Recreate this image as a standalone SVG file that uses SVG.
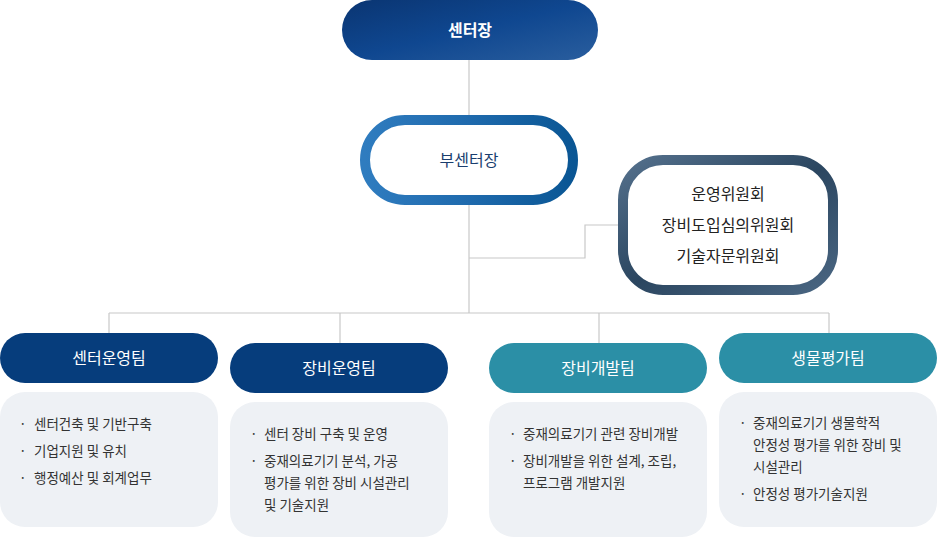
<svg xmlns="http://www.w3.org/2000/svg" width="938" height="538" viewBox="0 0 938 538">
<style>
text{font-family:"Noto Sans CJK KR","Noto Sans",sans-serif}
.t{font-size:16px;fill:#fff;text-anchor:middle}
.b{font-size:13.5px;fill:#333}
.c{font-size:16px;fill:#222;text-anchor:middle}
.box{fill:#eef1f5}
.ln{stroke:#c8c8c8;stroke-width:1.2;fill:none}
</style>
<defs>
<linearGradient id="g1" x1="0" y1="0" x2="1" y2="1"><stop offset="0" stop-color="#0a3572"/><stop offset="0.5" stop-color="#0f4790"/><stop offset="1" stop-color="#2a5e9e"/></linearGradient>
<linearGradient id="g2" x1="0" y1="0" x2="1" y2="0"><stop offset="0" stop-color="#2f7cbf"/><stop offset="0.5" stop-color="#1f6aad"/><stop offset="1" stop-color="#0a5694"/></linearGradient>
<linearGradient id="g3" x1="0" y1="0" x2="1" y2="1"><stop offset="0" stop-color="#54708c"/><stop offset="0.5" stop-color="#2b4660"/><stop offset="1" stop-color="#4a6682"/></linearGradient>
</defs>
<g id="connectors">
<path class="ln" d="M469 60V115M469 205V313M469 258H585V225H618M109 313H829M109 313V333M340 313V343M599 313V343M829 313V333"/>
</g>
<g id="n-head"><rect x="342" y="0" width="256" height="60" rx="30" fill="url(#g1)"/><text class="t" x="470" y="36" font-weight="bold" font-size="17">센터장</text></g>
<g id="n-deputy"><rect x="365" y="120" width="208" height="80" rx="40" fill="#fff" stroke="url(#g2)" stroke-width="10"/><text class="c" x="469" y="166" fill="#1a3e6e" style="fill:#1a3e6e">부센터장</text></g>
<g id="n-committee"><rect x="623" y="160" width="210" height="130" rx="40" fill="#fff" stroke="url(#g3)" stroke-width="10"/>
<text class="c" x="728" y="200">운영위원회</text><text class="c" x="728" y="231">장비도입심의위원회</text><text class="c" x="728" y="262">기술자문위원회</text></g>
<g id="n-team1"><rect x="0" y="333" width="218" height="50" rx="25" fill="#063d7c"/><text class="t" x="109" y="364">센터운영팀</text>
<rect class="box" x="0" y="392" width="218" height="135" rx="25"/>
<text class="b"><tspan x="19" y="429">·</tspan><tspan x="34" y="429">센터건축 및 기반구축</tspan><tspan x="19" y="456">·</tspan><tspan x="34" y="456">기업지원 및 유치</tspan><tspan x="19" y="483">·</tspan><tspan x="34" y="483">행정예산 및 회계업무</tspan></text></g>
<g id="n-team2"><rect x="230" y="343" width="218" height="50" rx="25" fill="#063d7c"/><text class="t" x="339" y="374">장비운영팀</text>
<rect class="box" x="230" y="402" width="218" height="135" rx="25"/>
<text class="b"><tspan x="250" y="439">·</tspan><tspan x="264" y="439">센터 장비 구축 및 운영</tspan><tspan x="250" y="466">·</tspan><tspan x="264" y="466">중재의료기기 분석, 가공</tspan><tspan x="264" y="488">평가를 위한 장비 시설관리</tspan><tspan x="264" y="510">및 기술지원</tspan></text></g>
<g id="n-team3"><rect x="489" y="343" width="218" height="50" rx="25" fill="#2b8fa6"/><text class="t" x="598" y="374">장비개발팀</text>
<rect class="box" x="489" y="402" width="218" height="135" rx="25"/>
<text class="b"><tspan x="509" y="439">·</tspan><tspan x="523" y="439">중재의료기기 관련 장비개발</tspan><tspan x="509" y="466">·</tspan><tspan x="523" y="466">장비개발을 위한 설계, 조립,</tspan><tspan x="523" y="488">프로그램 개발지원</tspan></text></g>
<g id="n-team4"><rect x="719" y="333" width="218" height="50" rx="25" fill="#2b8fa6"/><text class="t" x="828" y="364">생물평가팀</text>
<rect class="box" x="719" y="392" width="218" height="135" rx="25"/>
<text class="b"><tspan x="739" y="428">·</tspan><tspan x="753" y="428">중재의료기기 생물학적</tspan><tspan x="753" y="450">안정성 평가를 위한 장비 및</tspan><tspan x="753" y="472">시설관리</tspan><tspan x="739" y="499">·</tspan><tspan x="753" y="499">안정성 평가기술지원</tspan></text></g>
</svg>
